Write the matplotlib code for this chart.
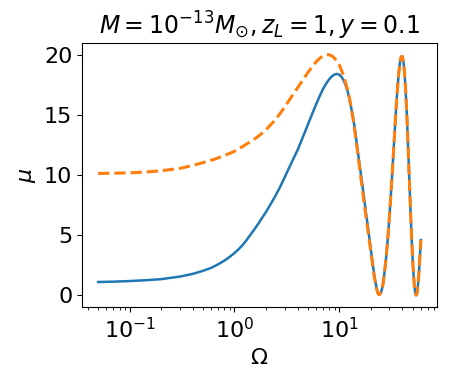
import numpy as np
import matplotlib
matplotlib.use("Agg")
import matplotlib.pyplot as plt

# magnification vs dimensionless frequency
# wave optics (solid)
omega_wave = [0.05, 0.07, 0.1, 0.15, 0.2, 0.3, 0.4, 0.5, 0.6, 0.7, 0.8, 0.9,
              1.0, 1.1, 1.2, 1.3, 1.4, 1.55, 1.7, 1.85, 2.0, 2.25, 2.5, 2.75,
              3.0, 3.25, 3.5, 3.75, 4.0, 4.5, 5.0, 5.5, 6.0, 6.5, 7.0, 7.5,
              8.0, 8.5, 9.0, 9.5, 10.0, 10.5, 11.0, 11.5, 12.0, 12.5, 13.0,
              13.5, 14.0, 14.5, 15.0, 15.5, 16.0, 16.5, 17.0, 17.5, 18.0,
              18.5, 19.0, 19.5, 20.0, 20.5, 21.0, 21.5, 22.0, 22.5, 23.0,
              23.5, 24.0, 24.5, 25.0, 25.5, 26.0, 27.0, 28.0, 29.0, 30.0,
              31.0, 32.0, 33.0, 34.0, 35.0, 36.0, 37.0, 38.0, 39.0, 40.0,
              41.0, 42.0, 43.0, 44.0, 45.0, 46.0, 47.0, 48.0, 49.0, 50.0,
              51.0, 52.0, 53.0, 54.0, 55.0, 56.0, 57.0, 58.0, 59.0, 60.0]
mu_wave = [1.10, 1.13, 1.18, 1.26, 1.34, 1.55, 1.78, 2.03, 2.28, 2.58, 2.88, 3.2,
           3.52, 3.85, 4.2, 4.58, 4.97, 5.5, 6.0, 6.5, 6.95, 7.7, 8.4, 9.1,
           9.8, 10.45, 11.05, 11.6, 12.1, 13.2, 14.2, 15.1, 15.9, 16.6, 17.2, 17.65,
           18.0, 18.25, 18.4, 18.45, 18.38, 18.2, 17.9, 17.5, 17.0, 16.35, 15.6,
           14.85, 14.0, 13.0, 12.0, 11.1, 10.2, 9.35, 8.5, 7.65, 6.8,
           6.05, 5.3, 4.55, 3.8, 3.1, 2.4, 1.78, 1.2, 0.75, 0.4,
           0.15, 0.05, 0.1, 0.25, 0.5, 0.8, 1.9, 3.2, 4.7, 6.4,
           8.3, 10.2, 12.2, 14.1, 15.9, 17.4, 18.6, 19.5, 19.9, 19.9,
           19.4, 18.4, 17.0, 15.2, 13.1, 10.9, 8.7, 6.6, 4.7, 3.1,
           1.8, 0.8, 0.2, 0.0, 0.1, 0.6, 1.4, 2.4, 3.5, 4.6]

# geometric optics (dashed)
omega_geo = [0.05, 0.1, 0.15, 0.2, 0.3, 0.4, 0.5, 0.6, 0.7, 0.8, 0.9, 1.0,
             1.15, 1.3, 1.45, 1.6, 1.8, 2.0, 2.35, 2.7, 3.1, 3.5, 4.0, 4.5,
             5.0, 5.5, 6.0, 6.5, 7.0, 7.5, 8.0, 8.5, 9.0, 9.5, 10.0, 10.5,
             11.0, 11.5, 12.0, 12.5, 13.0, 13.5, 14.0, 14.5, 15.0, 15.5,
             16.0, 16.5, 17.0, 17.5, 18.0, 18.5, 19.0, 19.5, 20.0, 20.5,
             21.0, 21.5, 22.0, 22.5, 23.0, 23.5, 24.0, 24.5, 25.0, 25.5,
             26.0, 27.0, 28.0, 29.0, 30.0, 31.0, 32.0, 33.0, 34.0, 35.0,
             36.0, 37.0, 38.0, 39.0, 40.0, 41.0, 42.0, 43.0, 44.0, 45.0,
             46.0, 47.0, 48.0, 49.0, 50.0, 51.0, 52.0, 53.0, 54.0, 55.0,
             56.0, 57.0, 58.0, 59.0, 60.0]
mu_geo = [10.15, 10.2, 10.28, 10.38, 10.57, 10.82, 11.05, 11.25, 11.45, 11.65, 11.82, 12.0,
          12.3, 12.6, 12.85, 13.1, 13.45, 13.8, 14.45, 15.1, 15.85, 16.55, 17.3, 17.95,
          18.55, 19.05, 19.45, 19.75, 19.95, 20.05, 20.05, 19.95, 19.75, 19.5, 19.2, 18.75,
          18.25, 17.7, 17.1, 16.45, 15.6, 14.75, 13.8, 12.8, 11.8, 10.85,
          9.9, 9.0, 8.1, 7.3, 6.5, 5.75, 5.0, 4.3, 3.6, 2.9,
          2.2, 1.6, 1.1, 0.65, 0.35, 0.12, 0.05, 0.1, 0.25, 0.5,
          0.8, 1.9, 3.2, 4.7, 6.4, 8.3, 10.2, 12.2, 14.1, 15.9,
          17.4, 18.6, 19.5, 19.9, 19.9, 19.4, 18.4, 17.0, 15.2, 13.1,
          10.9, 8.7, 6.6, 4.7, 3.1, 1.8, 0.8, 0.2, 0.0, 0.1,
          0.6, 1.4, 2.4, 3.5, 4.6]

fig = plt.figure(figsize=(4.49, 3.84), dpi=100)
ax = fig.add_axes([0.1826, 0.2, 0.7907, 0.6872])

ax.plot(omega_wave, mu_wave, color="C0", lw=1.8)
ax.plot(omega_geo, mu_geo, color="C1", lw=2.2, ls="--")
ax.set_xscale("log")
ax.set_ylim(-1.0, 21.0)
ax.set_yticks([0, 5, 10, 15, 20])

ax.set_title(r"$M=10^{-13}M_{\odot}, z_L=1, y=0.1$", fontsize=17)
ax.set_xlabel(r"$\Omega$", fontsize=16)
ax.set_ylabel(r"$\mu$", fontsize=16)
ax.tick_params(labelsize=16)

fig.savefig("out.png", dpi=100)
